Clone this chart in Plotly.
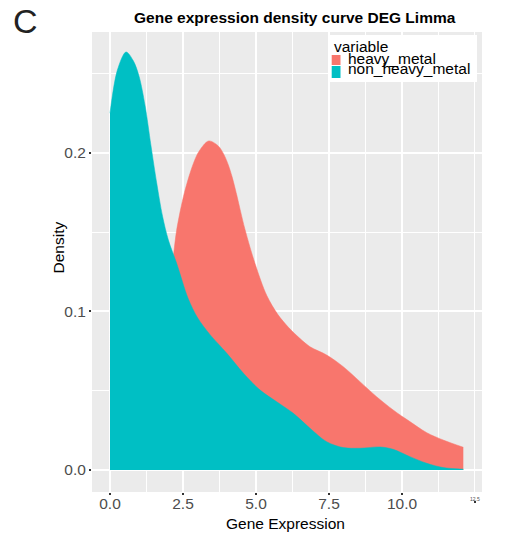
import plotly.graph_objects as go

# ---- data ----
heavy_x = [0, 0.5, 1.0, 1.4, 1.7, 2.0, 2.17, 2.28, 2.55, 2.85, 3.05, 3.38, 3.7, 3.9, 4.05, 4.18, 4.32,
           4.62, 4.97, 5.37, 5.75, 6.11, 6.5, 6.85, 7.42, 7.99, 8.56, 9.13, 9.70, 10.27, 10.85, 11.41, 12.1]
heavy_y = [0.001, 0.004, 0.015, 0.04, 0.07, 0.11, 0.1345, 0.151, 0.175, 0.193, 0.201, 0.2075, 0.2045, 0.199,
           0.1925, 0.185, 0.175, 0.152, 0.130, 0.110, 0.098, 0.090, 0.083, 0.0777, 0.0725, 0.0651, 0.0557,
           0.0462, 0.0378, 0.0305, 0.0235, 0.0189, 0.0143]

non_x = [0, 0.25, 0.55, 0.8, 1.0, 1.2, 1.4, 1.6, 1.8, 2.0, 2.28, 2.68, 3.0, 3.42, 4.0, 4.57, 5.14,
         5.71, 6.28, 6.85, 7.42, 7.99, 8.56, 9.25, 9.70, 10.27, 10.85, 11.41, 12.1]
non_y = [0.225, 0.252, 0.2636, 0.258, 0.248, 0.23, 0.205, 0.181, 0.160, 0.145, 0.1305, 0.108, 0.096, 0.0855,
         0.0736, 0.061, 0.0504, 0.043, 0.0357, 0.0263, 0.0178, 0.0141, 0.0137, 0.0145, 0.013, 0.0084, 0.0042,
         0.0015, 0.0005]

series_names = ["heavy_metal", "non_heavy_metal"]
series_colors = ["#F8766D", "#00BFC4"]

x_tickvals = [0, 2.5, 5.0, 7.5, 10.0]
x_ticktext = ["0.0", "2.5", "5.0", "7.5", "10.0"]
x_small_tick = 12.5
x_small_ticktext = "12.5"
y_tickvals = [0.0, 0.1, 0.2]
y_ticktext = ["0.0", "0.1", "0.2"]

title_text = "Gene expression density curve DEG Limma"
x_title = "Gene Expression"
y_title = "Density"
legend_title = "variable"
panel_label = "C"

# ---- figure ----
OFF = 8                      # page body margin
W, H = 524 - OFF, 551 - OFF  # figure size so it fits the window
PL, PR, PT, PB = 92, 482, 32, 492   # panel edges in window pixels
L, T = PL - OFF, PT - OFF
R, B = W - (PR - OFF), H - (PB - OFF)
FONT = "Liberation Sans, Arial, sans-serif"


def px(xp):
    return (xp - PL) / (PR - PL)


def py(yp):
    return (PB - yp) / (PB - PT)


fig = go.Figure()
for xs, ys, name, col in [(heavy_x, heavy_y, series_names[0], series_colors[0]),
                          (non_x, non_y, series_names[1], series_colors[1])]:
    fig.add_trace(go.Scatter(
        x=xs, y=ys, name=name, mode="lines", fill="tozeroy",
        fillcolor=col, line=dict(color=col, width=0.5, shape="spline", smoothing=0.9),
        showlegend=False,
    ))

fig.update_layout(
    width=W, height=H,
    margin=dict(l=L, r=R, t=T, b=B),
    paper_bgcolor="white",
    plot_bgcolor="#EBEBEB",
    font=dict(family=FONT, color="#4D4D4D", size=15),
    showlegend=False,
)

fig.update_xaxes(
    range=[-0.616, 12.74], tickmode="array", tickvals=x_tickvals, ticktext=x_ticktext,
    showgrid=True, gridcolor="white", gridwidth=1.5, zeroline=False, showline=False,
    ticks="outside", ticklen=2, tickwidth=2, tickcolor="#333333", ticklabelstandoff=-5,
    tickfont=dict(size=15.5, color="#4D4D4D", family=FONT),
    minor=dict(dtick=1.25, tick0=0, showgrid=True, gridcolor="white", gridwidth=1.2, ticks=""),
)
fig.update_yaxes(
    range=[-0.0139, 0.2762], tickmode="array", tickvals=y_tickvals, ticktext=y_ticktext,
    showgrid=True, gridcolor="white", gridwidth=1.5, zeroline=False, showline=False,
    ticks="outside", ticklen=2, tickwidth=2, tickcolor="#333333",
    tickfont=dict(size=15.5, color="#4D4D4D", family=FONT),
    minor=dict(dtick=0.05, tick0=0, showgrid=True, gridcolor="white", gridwidth=1.1, ticks=""),
)

annotations = [
    dict(text=panel_label, x=px(11), y=py(21.5), xanchor="left", yanchor="middle",
         font=dict(size=34, color="#222222", family=FONT)),
    dict(text="<b>" + title_text + "</b>", x=px(295), y=py(18), xanchor="center", yanchor="middle",
         font=dict(size=15.5, color="black", family=FONT)),
    dict(text=x_title, x=px(285.5), y=py(523), xanchor="center", yanchor="middle",
         font=dict(size=15.5, color="black", family=FONT)),
    dict(text=y_title, x=px(58), y=py(247.5), xanchor="center", yanchor="middle", textangle=-90,
         font=dict(size=15.5, color="black", family=FONT)),
    dict(text=legend_title, x=px(332), y=py(46), xanchor="left", yanchor="middle",
         font=dict(size=15.5, color="black", family=FONT)),
    dict(text=series_names[0], x=px(346), y=py(58.5), xanchor="left", yanchor="middle",
         font=dict(size=15.5, color="black", family=FONT)),
    dict(text=series_names[1], x=px(346), y=py(69), xanchor="left", yanchor="middle",
         font=dict(size=15.5, color="black", family=FONT)),
]
for a in annotations:
    a.update(xref="paper", yref="paper", showarrow=False)
# tiny tick label at the right end of the x axis
annotations.append(dict(text=x_small_ticktext, x=x_small_tick, xref="x", y=py(498.5), yref="paper",
                        xanchor="center", yanchor="middle", showarrow=False,
                        font=dict(size=5, color="#4D4D4D", family=FONT)))
fig.update_layout(annotations=annotations)

shapes = [
    dict(type="rect", x0=px(330), x1=px(477), y0=py(35), y1=py(82), xref="paper", yref="paper",
         fillcolor="white", line=dict(width=0), layer="above"),
    dict(type="rect", x0=px(331.7), x1=px(340.5), y0=py(55), y1=py(65), xref="paper", yref="paper",
         fillcolor=series_colors[0], line=dict(width=0), layer="above"),
    dict(type="rect", x0=px(331.7), x1=px(340.5), y0=py(66), y1=py(78), xref="paper", yref="paper",
         fillcolor=series_colors[1], line=dict(width=0), layer="above"),
    # displaced tick dot under the tiny 12.5 label
    dict(type="rect", x0=x_small_tick - 0.035, x1=x_small_tick + 0.035, xref="x",
         y0=py(503), y1=py(501), yref="paper",
         fillcolor="#333333", line=dict(width=0), layer="above"),
]
fig.update_layout(shapes=shapes)

fig.write_html("out.html")
